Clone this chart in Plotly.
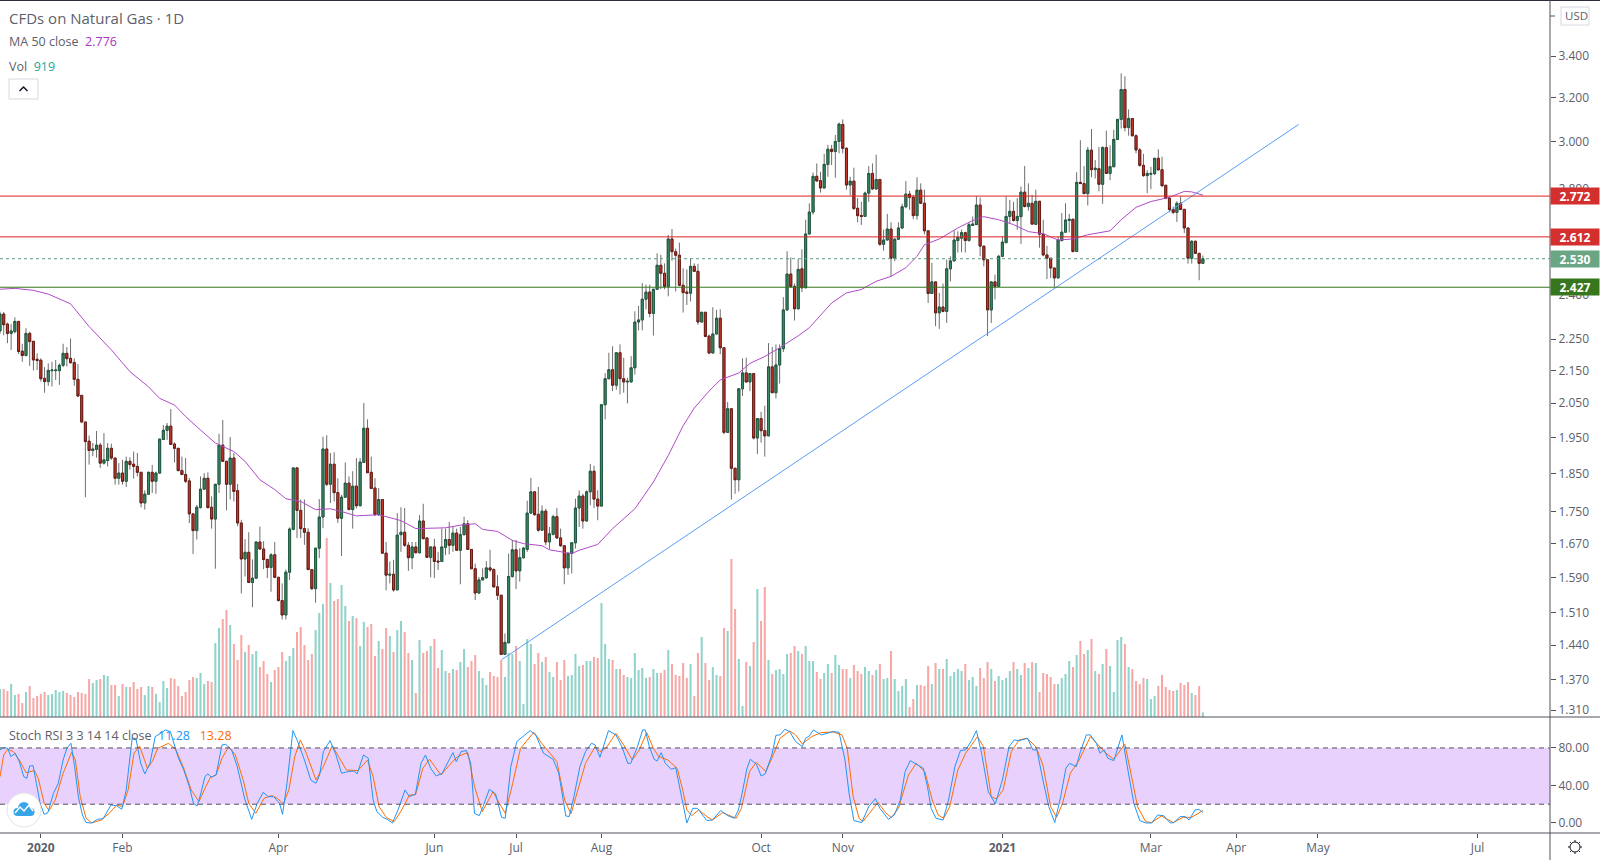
"""
CFDs on Natural Gas, daily candles with MA 50, volume and Stoch RSI panes.
"""

import math

import plotly.graph_objects as go

# Price values, one entry per daily bar.
opens = [
    2.277, 2.334, 2.300, 2.269, 2.275, 2.309, 2.211, 2.197, 2.269, 2.243,
    2.185, 2.182, 2.125, 2.115, 2.149, 2.149, 2.149, 2.166, 2.204, 2.188,
    2.175, 2.122, 2.073, 1.994, 1.939, 1.913, 1.916, 1.928, 1.878, 1.885,
    1.919, 1.892, 1.837, 1.851, 1.829, 1.883, 1.875, 1.869, 1.853, 1.772,
    1.795, 1.853, 1.829, 1.851, 1.944, 1.970, 1.982, 1.931, 1.919, 1.858,
    1.847, 1.830, 1.744, 1.702, 1.760, 1.808, 1.837, 1.761, 1.731, 1.821,
    1.928, 1.883, 1.821, 1.892, 1.804, 1.721, 1.633, 1.649, 1.578, 1.588,
    1.674, 1.657, 1.632, 1.613, 1.643, 1.590, 1.537, 1.505, 1.602, 1.705,
    1.865, 1.753, 1.707, 1.698, 1.608, 1.564, 1.659, 1.736, 1.917, 1.821,
    1.875, 1.799, 1.733, 1.787, 1.824, 1.755, 1.816, 1.765, 1.880, 1.976,
    1.853, 1.811, 1.742, 1.781, 1.647, 1.595, 1.597, 1.561, 1.692, 1.698,
    1.666, 1.636, 1.662, 1.648, 1.726, 1.684, 1.637, 1.662, 1.628, 1.627,
    1.661, 1.680, 1.666, 1.696, 1.654, 1.692, 1.719, 1.656, 1.610, 1.554,
    1.584, 1.589, 1.612, 1.608, 1.568, 1.549, 1.421, 1.445, 1.592, 1.655,
    1.605, 1.636, 1.656, 1.746, 1.801, 1.743, 1.703, 1.751, 1.674, 1.693,
    1.737, 1.684, 1.665, 1.612, 1.646, 1.672, 1.759, 1.790, 1.726, 1.801,
    1.856, 1.782, 1.764, 2.045, 2.124, 2.152, 2.104, 2.206, 2.124, 2.114,
    2.114, 2.158, 2.307, 2.314, 2.385, 2.410, 2.336, 2.420, 2.506, 2.477,
    2.430, 2.604, 2.556, 2.543, 2.434, 2.410, 2.406, 2.502, 2.484, 2.307,
    2.340, 2.260, 2.205, 2.267, 2.320, 2.222, 1.964, 2.033, 1.864, 1.833,
    2.093, 2.142, 2.114, 2.140, 1.948, 2.004, 1.969, 1.954, 2.161, 2.081,
    2.167, 2.219, 2.348, 2.474, 2.430, 2.352, 2.493, 2.425, 2.623, 2.708,
    2.853, 2.835, 2.805, 2.903, 2.968, 2.958, 3.002, 3.077, 2.972, 2.817,
    2.833, 2.723, 2.695, 2.691, 2.784, 2.865, 2.801, 2.840, 2.584, 2.600,
    2.642, 2.532, 2.603, 2.646, 2.729, 2.780, 2.767, 2.694, 2.796, 2.743,
    2.635, 2.405, 2.446, 2.338, 2.358, 2.343, 2.493, 2.522, 2.598, 2.607,
    2.628, 2.598, 2.656, 2.659, 2.736, 2.577, 2.526, 2.348, 2.446, 2.430,
    2.539, 2.590, 2.691, 2.711, 2.675, 2.690, 2.788, 2.730, 2.743, 2.660,
    2.751, 2.622, 2.544, 2.532, 2.496, 2.460, 2.598, 2.630, 2.675, 2.680,
    2.557, 2.828, 2.823, 2.782, 2.964, 2.881, 2.885, 2.820, 2.975, 2.865,
    2.893, 3.011, 3.100, 3.238, 3.063, 3.104, 3.027, 2.965, 2.899, 2.856,
    2.862, 2.864, 2.929, 2.881, 2.816, 2.763, 2.718, 2.707, 2.743, 2.719,
    2.646, 2.532, 2.595, 2.550, 2.513,
]
closes = [
    2.334, 2.298, 2.269, 2.277, 2.309, 2.210, 2.197, 2.269, 2.242, 2.183,
    2.181, 2.124, 2.115, 2.150, 2.151, 2.151, 2.166, 2.204, 2.187, 2.174,
    2.122, 2.071, 1.994, 1.938, 1.913, 1.917, 1.928, 1.878, 1.887, 1.919,
    1.892, 1.837, 1.851, 1.829, 1.883, 1.874, 1.869, 1.853, 1.772, 1.795,
    1.853, 1.829, 1.851, 1.945, 1.970, 1.982, 1.930, 1.919, 1.858, 1.847,
    1.829, 1.744, 1.702, 1.761, 1.808, 1.837, 1.760, 1.731, 1.821, 1.928,
    1.883, 1.821, 1.892, 1.802, 1.721, 1.633, 1.649, 1.578, 1.588, 1.674,
    1.657, 1.632, 1.613, 1.643, 1.590, 1.537, 1.505, 1.602, 1.706, 1.865,
    1.753, 1.707, 1.698, 1.608, 1.564, 1.659, 1.736, 1.917, 1.821, 1.875,
    1.799, 1.733, 1.787, 1.824, 1.755, 1.816, 1.765, 1.881, 1.976, 1.852,
    1.810, 1.742, 1.781, 1.647, 1.595, 1.597, 1.561, 1.691, 1.698, 1.666,
    1.636, 1.662, 1.648, 1.726, 1.682, 1.637, 1.662, 1.627, 1.626, 1.662,
    1.680, 1.666, 1.696, 1.654, 1.692, 1.719, 1.656, 1.610, 1.554, 1.584,
    1.589, 1.612, 1.607, 1.568, 1.549, 1.421, 1.446, 1.592, 1.655, 1.605,
    1.636, 1.659, 1.746, 1.801, 1.742, 1.703, 1.751, 1.674, 1.694, 1.737,
    1.684, 1.665, 1.612, 1.646, 1.672, 1.759, 1.790, 1.726, 1.801, 1.856,
    1.782, 1.764, 2.045, 2.124, 2.152, 2.104, 2.206, 2.124, 2.114, 2.116,
    2.158, 2.307, 2.314, 2.385, 2.410, 2.336, 2.420, 2.506, 2.477, 2.430,
    2.604, 2.556, 2.543, 2.434, 2.408, 2.406, 2.502, 2.484, 2.307, 2.340,
    2.259, 2.205, 2.267, 2.320, 2.222, 1.964, 2.033, 1.864, 1.833, 2.093,
    2.142, 2.114, 2.140, 1.948, 2.004, 1.969, 1.954, 2.161, 2.081, 2.167,
    2.219, 2.348, 2.474, 2.430, 2.352, 2.491, 2.425, 2.623, 2.708, 2.853,
    2.834, 2.805, 2.903, 2.968, 2.958, 3.002, 3.079, 2.972, 2.817, 2.833,
    2.722, 2.694, 2.691, 2.784, 2.865, 2.801, 2.840, 2.584, 2.600, 2.642,
    2.532, 2.603, 2.646, 2.729, 2.780, 2.767, 2.694, 2.796, 2.743, 2.635,
    2.405, 2.446, 2.338, 2.358, 2.343, 2.493, 2.522, 2.600, 2.610, 2.628,
    2.598, 2.659, 2.661, 2.736, 2.577, 2.526, 2.348, 2.446, 2.430, 2.539,
    2.592, 2.691, 2.711, 2.675, 2.691, 2.788, 2.730, 2.743, 2.661, 2.751,
    2.622, 2.544, 2.532, 2.496, 2.460, 2.600, 2.630, 2.677, 2.680, 2.557,
    2.828, 2.823, 2.782, 2.964, 2.881, 2.887, 2.820, 2.975, 2.865, 2.894,
    3.011, 3.100, 3.238, 3.063, 3.104, 3.027, 2.965, 2.899, 2.856, 2.865,
    2.865, 2.929, 2.880, 2.814, 2.763, 2.718, 2.707, 2.743, 2.718, 2.646,
    2.532, 2.595, 2.550, 2.513, 2.530,
]
highs = [
    2.342, 2.341, 2.305, 2.300, 2.323, 2.309, 2.235, 2.286, 2.275, 2.243,
    2.204, 2.188, 2.160, 2.172, 2.177, 2.183, 2.172, 2.235, 2.224, 2.252,
    2.188, 2.170, 2.073, 1.994, 1.955, 1.934, 1.968, 1.934, 1.962, 1.934,
    1.932, 1.892, 1.878, 1.887, 1.896, 1.894, 1.910, 1.906, 1.853, 1.805,
    1.855, 1.873, 1.855, 1.945, 1.985, 1.991, 2.032, 1.936, 1.919, 1.896,
    1.892, 1.838, 1.744, 1.767, 1.842, 1.851, 1.853, 1.789, 1.821, 1.960,
    2.000, 1.883, 1.951, 1.906, 1.822, 1.729, 1.681, 1.698, 1.632, 1.675,
    1.712, 1.676, 1.632, 1.647, 1.674, 1.590, 1.576, 1.608, 1.710, 1.865,
    1.865, 1.781, 1.781, 1.708, 1.608, 1.659, 1.782, 1.952, 1.956, 1.906,
    1.908, 1.837, 1.793, 1.880, 1.842, 1.856, 1.892, 1.892, 2.050, 2.002,
    1.896, 1.837, 1.811, 1.781, 1.674, 1.627, 1.631, 1.746, 1.761, 1.759,
    1.674, 1.674, 1.674, 1.741, 1.770, 1.684, 1.662, 1.682, 1.650, 1.707,
    1.707, 1.724, 1.711, 1.707, 1.711, 1.737, 1.728, 1.656, 1.622, 1.591,
    1.611, 1.628, 1.655, 1.611, 1.595, 1.549, 1.465, 1.646, 1.679, 1.679,
    1.659, 1.662, 1.778, 1.838, 1.801, 1.814, 1.766, 1.757, 1.711, 1.742,
    1.759, 1.707, 1.665, 1.650, 1.674, 1.783, 1.805, 1.796, 1.805, 1.876,
    1.871, 1.805, 2.045, 2.141, 2.206, 2.227, 2.206, 2.233, 2.190, 2.127,
    2.195, 2.343, 2.362, 2.442, 2.436, 2.436, 2.420, 2.550, 2.544, 2.513,
    2.619, 2.642, 2.568, 2.590, 2.495, 2.491, 2.532, 2.513, 2.511, 2.340,
    2.340, 2.265, 2.357, 2.348, 2.350, 2.222, 2.053, 2.033, 1.864, 2.093,
    2.188, 2.190, 2.140, 2.140, 2.004, 2.024, 2.042, 2.237, 2.225, 2.233,
    2.233, 2.392, 2.558, 2.535, 2.440, 2.529, 2.565, 2.678, 2.743, 2.869,
    2.907, 2.872, 2.948, 2.987, 2.987, 3.030, 3.085, 3.100, 2.976, 2.851,
    2.889, 2.764, 2.749, 2.790, 2.896, 2.907, 2.944, 2.840, 2.640, 2.701,
    2.668, 2.607, 2.668, 2.741, 2.833, 2.793, 2.777, 2.849, 2.824, 2.798,
    2.635, 2.515, 2.446, 2.407, 2.440, 2.527, 2.539, 2.636, 2.633, 2.640,
    2.632, 2.668, 2.691, 2.771, 2.766, 2.577, 2.526, 2.448, 2.472, 2.544,
    2.613, 2.771, 2.757, 2.749, 2.764, 2.811, 2.896, 2.824, 2.777, 2.798,
    2.751, 2.678, 2.578, 2.532, 2.496, 2.613, 2.704, 2.743, 2.701, 2.680,
    2.870, 3.007, 2.896, 2.978, 3.057, 2.922, 2.978, 2.981, 3.050, 2.985,
    3.053, 3.100, 3.315, 3.301, 3.145, 3.104, 3.033, 2.973, 2.948, 2.879,
    2.893, 2.929, 2.968, 2.936, 2.816, 2.770, 2.730, 2.751, 2.770, 2.719,
    2.646, 2.600, 2.598, 2.550, 2.542,
]
lows = [
    2.268, 2.263, 2.237, 2.215, 2.269, 2.202, 2.177, 2.194, 2.164, 2.150,
    2.151, 2.115, 2.081, 2.102, 2.100, 2.120, 2.105, 2.160, 2.162, 2.172,
    2.102, 2.069, 1.993, 1.787, 1.874, 1.897, 1.893, 1.865, 1.874, 1.869,
    1.887, 1.820, 1.820, 1.820, 1.814, 1.860, 1.836, 1.842, 1.761, 1.755,
    1.793, 1.798, 1.796, 1.849, 1.943, 1.943, 1.929, 1.880, 1.855, 1.846,
    1.824, 1.721, 1.645, 1.680, 1.758, 1.806, 1.758, 1.707, 1.610, 1.798,
    1.883, 1.753, 1.781, 1.776, 1.713, 1.553, 1.592, 1.578, 1.522, 1.588,
    1.655, 1.609, 1.588, 1.557, 1.588, 1.535, 1.495, 1.495, 1.584, 1.703,
    1.684, 1.684, 1.667, 1.607, 1.561, 1.532, 1.635, 1.708, 1.816, 1.772,
    1.776, 1.721, 1.640, 1.785, 1.754, 1.707, 1.758, 1.763, 1.878, 1.851,
    1.808, 1.739, 1.739, 1.645, 1.560, 1.576, 1.557, 1.561, 1.650, 1.662,
    1.605, 1.609, 1.646, 1.646, 1.682, 1.636, 1.590, 1.588, 1.607, 1.627,
    1.642, 1.644, 1.650, 1.654, 1.574, 1.690, 1.656, 1.609, 1.538, 1.552,
    1.583, 1.586, 1.603, 1.566, 1.538, 1.420, 1.420, 1.445, 1.589, 1.563,
    1.580, 1.634, 1.650, 1.744, 1.739, 1.699, 1.703, 1.666, 1.656, 1.690,
    1.682, 1.662, 1.574, 1.596, 1.599, 1.658, 1.711, 1.707, 1.724, 1.766,
    1.759, 1.728, 1.764, 2.002, 2.122, 2.086, 2.090, 2.076, 2.081, 2.049,
    2.112, 2.137, 2.279, 2.279, 2.350, 2.323, 2.262, 2.418, 2.420, 2.420,
    2.395, 2.523, 2.412, 2.430, 2.339, 2.365, 2.377, 2.483, 2.298, 2.306,
    2.257, 2.201, 2.204, 2.265, 2.201, 1.959, 1.964, 1.781, 1.796, 1.802,
    2.071, 2.112, 2.086, 1.944, 1.903, 1.935, 1.896, 1.954, 2.081, 2.064,
    2.109, 2.208, 2.346, 2.424, 2.312, 2.350, 2.410, 2.425, 2.621, 2.698,
    2.830, 2.786, 2.802, 2.851, 2.900, 2.847, 2.950, 2.950, 2.798, 2.774,
    2.717, 2.668, 2.658, 2.690, 2.749, 2.798, 2.798, 2.578, 2.560, 2.600,
    2.466, 2.521, 2.600, 2.642, 2.723, 2.717, 2.680, 2.678, 2.741, 2.621,
    2.372, 2.404, 2.293, 2.284, 2.340, 2.304, 2.448, 2.521, 2.553, 2.554,
    2.553, 2.594, 2.656, 2.659, 2.539, 2.502, 2.260, 2.304, 2.384, 2.430,
    2.539, 2.588, 2.665, 2.671, 2.639, 2.585, 2.727, 2.714, 2.659, 2.659,
    2.571, 2.539, 2.456, 2.460, 2.428, 2.460, 2.594, 2.630, 2.629, 2.553,
    2.557, 2.821, 2.781, 2.734, 2.849, 2.844, 2.791, 2.741, 2.865, 2.837,
    2.893, 3.008, 3.059, 3.046, 3.027, 3.023, 2.950, 2.893, 2.851, 2.784,
    2.800, 2.858, 2.876, 2.810, 2.759, 2.707, 2.700, 2.669, 2.717, 2.627,
    2.512, 2.512, 2.549, 2.452, 2.512,
]
volumes = [
    5600, 5600, 5200, 6600, 4400, 4600, 2800, 5000, 6200, 3800,
    4200, 4600, 5000, 4400, 4600, 5400, 5000, 5200, 4800, 4400,
    4000, 5000, 4800, 4600, 7600, 6800, 7400, 7600, 8400, 8200,
    6400, 6400, 4200, 6600, 6000, 6000, 7000, 5600, 6000, 4400,
    6200, 6000, 4600, 3000, 7200, 5800, 7800, 7600, 6200, 4200,
    5000, 7400, 8000, 7800, 8800, 6600, 7200, 7000, 14800, 17800,
    19600, 21400, 18400, 14600, 11400, 16400, 13000, 14400, 12600, 13200,
    10000, 11200, 8600, 7000, 9400, 10000, 13000, 11200, 12200, 13800,
    17000, 18000, 14400, 11400, 12600, 17400, 20800, 22600, 35800, 26800,
    23200, 23600, 26400, 22200, 19200, 20200, 19800, 14200, 19000, 18000,
    18600, 12200, 15200, 13600, 17800, 16200, 13000, 17400, 19200, 17000,
    12800, 11400, 4800, 15400, 12800, 13200, 14200, 15600, 9800, 13400,
    9200, 8800, 9600, 9400, 11000, 13600, 10000, 11200, 12400, 9200,
    7800, 6400, 9000, 8200, 8000, 11400, 8000, 12800, 12600, 14200,
    11200, 2600, 15600, 14600, 10600, 12800, 11000, 12000, 9000, 8000,
    11000, 7400, 11400, 8200, 8400, 12600, 10200, 10400, 11200, 11200,
    12000, 11800,
    22800, 14600, 11600, 11400, 9600, 9600, 8400, 8000, 7800, 12800,
    9400, 9800, 7800, 8000, 9600, 8800, 8800, 9400, 13400, 10600,
    8400, 8200, 10800, 7800, 10600, 4200, 12800, 16000, 10800, 7400,
    10000, 8400, 8200, 17800, 17200, 31600, 21600, 11600, 2200, 11000,
    10200, 15000, 25600, 19200, 26000, 11400, 8600, 9400, 9600, 8600,
    12600, 12800, 14200, 13200, 12600, 14200, 11200, 11200, 9000, 7600,
    8800, 10600, 8800, 12400, 10400, 9600, 9600, 7800, 10400, 9200,
    8600, 10000, 9200, 8400, 9400, 10600, 7600, 7800, 13200, 7600,
    5200, 6200, 7600, 2000, 3600, 6400, 6400, 6200, 10200, 6600,
    10800, 9600, 9600, 11600, 8200, 9000, 9600, 9200, 10600, 7400,
    8000, 6200, 9800, 7800, 11000, 9600, 7200, 8200, 7400, 7800,
    9200, 11000, 9600, 8400, 10800, 9800, 11000, 10800, 5000, 8800,
    8600, 8000, 6600, 6600, 7800, 8600, 11200, 10000, 12400, 15200,
    12600, 13400, 15600, 9200, 8600, 10600, 13600, 10200, 5000, 15400,
    16000, 14600, 10000, 9600, 7200, 6600, 7800, 7600, 3600, 4200,
    6200, 8400, 6000, 5400, 5200, 5400, 6800, 6400, 7000, 4800,
    4400, 6200,
    919,
]

# MA 50, vertices (bar number, price).
ma_bars = [
    0, 4, 9, 13, 19, 24, 30, 35, 40, 43, 47, 50, 54, 58, 63, 66, 70, 74, 77, 81,
    85, 89, 92, 96, 102, 108, 112, 120, 125, 128, 130, 134, 138, 141, 146, 148,
    154, 156, 161, 165, 171, 176, 180, 184, 187, 191, 194, 199, 202, 206, 210,
    215, 218, 221, 224, 228, 232, 236, 240, 244, 247, 249, 253, 258, 262, 265,
    269, 273, 277, 281, 285, 289, 293, 299, 302, 306, 310, 315, 319, 321, 324,
]
ma_values = [
    2.420, 2.423, 2.416, 2.403, 2.369, 2.292, 2.215, 2.146, 2.099, 2.064, 2.044,
    2.010, 1.971, 1.934, 1.910, 1.883, 1.833, 1.807, 1.783, 1.776, 1.755, 1.757,
    1.750, 1.739, 1.742, 1.727, 1.707, 1.709, 1.717, 1.719, 1.705, 1.700, 1.678,
    1.670, 1.665, 1.655, 1.646, 1.654, 1.668, 1.707, 1.757, 1.827, 1.899, 1.983,
    2.035, 2.086, 2.120, 2.142, 2.172, 2.194, 2.222, 2.261, 2.288, 2.328, 2.372,
    2.407, 2.419, 2.448, 2.466, 2.497, 2.539, 2.582, 2.604, 2.646, 2.675, 2.690,
    2.678, 2.659, 2.632, 2.624, 2.600, 2.604, 2.620, 2.635, 2.678, 2.727, 2.750,
    2.767, 2.791, 2.789, 2.776,
]

# Stoch RSI, vertices.
k_bars = [
    0.0, 1.0, 2.1, 2.9, 4.1, 5.2, 6.4, 7.2, 8.0, 8.9, 9.8, 10.8, 11.9, 12.9, 14.4,
    15.7, 17.0, 18.0, 19.1, 20.1, 21.1, 22.2, 23.2, 24.7, 26.3, 27.8, 29.9, 31.4,
    32.8, 34.0, 35.6, 36.6, 37.9, 39.0, 40.4, 41.8, 43.3, 44.5, 45.9, 46.9, 47.9,
    49.5, 51.0, 52.1, 53.1, 54.1, 55.2, 56.0, 56.9, 58.2, 59.8, 60.8, 62.4, 63.9,
    66.0, 67.8, 69.3, 70.9, 72.2, 73.7, 75.3, 76.1, 77.3, 78.9, 80.2, 82.0, 83.7,
    85.1, 86.1, 87.1, 88.9, 90.5, 92.0, 93.8, 95.4, 96.2, 97.9, 99.2, 100.5, 101.5,
    103.1, 104.3, 105.7, 107.2, 109.1, 110.3, 111.9, 113.4, 114.6, 116.0, 117.5,
    119.1, 120.4, 122.0, 122.9, 124.2, 125.6, 126.8, 127.8, 129.1, 130.1, 131.8,
    133.5, 135.1, 136.1, 137.6, 139.2, 140.7, 142.8, 144.3, 146.4, 149.0, 150.5,
    152.4, 153.3, 154.6, 156.2, 157.7, 159.3, 160.3, 161.6, 163.9, 165.9, 167.5,
    169.1, 169.9, 171.7, 173.1, 173.8, 174.9, 176.2, 177.0, 178.1, 179.2, 180.8,
    182.0, 183.4, 185.0, 186.6, 187.9, 190.4, 191.9, 194.1, 196.2, 197.8, 198.9,
    199.9, 201.2, 202.1, 203.7, 205.0, 206.1, 207.9, 209.0, 210.1, 211.4, 212.7,
    214.3, 216.1, 217.0, 218.0, 219.1, 221.2, 222.8, 224.4, 226.0, 227.6, 228.7,
    230.0, 232.1, 234.0, 235.8, 237.0, 239.3, 240.9, 242.5, 243.8, 245.2, 246.6,
    248.7, 249.8, 250.8, 252.1, 254.0, 255.5, 257.2, 258.7, 260.1, 261.7, 263.0,
    264.4, 266.2, 268.1, 270.0, 271.8, 273.2, 274.5, 276.8, 278.2, 279.3, 280.9,
    282.5, 284.1, 285.7, 287.1, 288.1, 289.9, 291.0, 292.6, 293.7, 295.3, 296.3,
    297.4, 298.4, 300.0, 301.1, 302.2, 303.8, 305.4, 307.0, 308.6, 310.2, 311.8,
    313.4, 315.2, 316.2, 317.9, 319.2, 320.3, 321.9, 322.9, 324.0,
]
k_values = [
    77.9, 80.4, 79.6, 70.8, 74.3, 65.4, 49.4, 47.6, 60.8, 61.2, 42.3, 21.0, 9.2,
    11.0, 31.6, 42.3, 67.2, 79.6, 85.0, 60.1, 28.1, 8.5, 0.4, 0.0, 3.9, 4.6, 19.2,
    18.5, 14.6, 35.2, 90.3, 90.3, 63.6, 52.3, 63.6, 92.1, 95.6, 99.2, 97.4, 85.0,
    70.8, 56.5, 38.8, 21.0, 18.1, 31.6, 49.4, 52.3, 48.7, 51.2, 83.2, 83.9, 77.9,
    60.1, 24.5, 3.9, 21.0, 32.7, 28.1, 28.1, 21.0, 9.2, 42.3, 98.5, 86.8, 67.2,
    45.9, 42.3, 51.2, 76.1, 87.8, 72.5, 53.0, 54.8, 55.5, 52.3, 72.5, 69.0, 24.5,
    12.1, 6.0, 3.9, 0.0, 13.9, 35.2, 28.1, 30.9, 63.6, 72.5, 58.3, 50.1, 53.0, 63.6,
    75.0, 65.4, 76.1, 77.2, 63.6, 10.3, 7.8, 17.4, 35.9, 30.9, 6.0, 5.0, 60.1, 86.8,
    91.4, 98.5, 93.9, 74.3, 67.9, 53.0, 7.5, 6.8, 28.1, 60.1, 76.1, 85.0, 83.2, 70.0,
    98.5, 93.9, 81.4, 63.6, 63.6, 81.4, 99.2, 99.2, 81.4, 67.9, 66.1, 75.0, 63.6,
    57.2, 59.0, 31.6, 0.0, 15.6, 15.6, 2.5, 3.2, 13.2, 7.5, 5.0, 13.9, 31.6, 58.3,
    67.9, 62.9, 50.1, 52.3, 72.5, 93.5, 93.9, 99.9, 97.4, 86.8, 81.4, 90.3, 92.8,
    99.2, 93.9, 95.6, 97.4, 96.7, 67.2, 31.6, 2.5, 0.4, 17.4, 26.0, 15.6, 3.9, 8.5,
    24.5, 54.8, 66.5, 62.9, 58.3, 38.8, 15.6, 5.0, 3.2, 24.5, 60.1, 77.2, 77.9, 87.8,
    98.5, 74.3, 33.4, 20.3, 45.9, 81.4, 88.5, 87.8, 90.3, 77.9, 77.9, 45.9, 17.4, 0.4,
    28.1, 58.3, 63.6, 60.1, 76.1, 93.9, 93.9, 85.0, 74.3, 77.9, 69.0, 66.5, 81.4, 93.9,
    56.5, 21.0, 2.5, 0.0, 0.0, 8.5, 7.8, 0.0, 0.4, 6.8, 6.8, 3.2, 13.9, 14.6, 11.28,
]
d_bars = [
    0.0, 1.0, 2.1, 3.6, 5.2, 7.0, 9.3, 10.3, 11.9, 13.2, 14.9, 17.0, 19.3, 20.3, 21.6,
    23.2, 24.7, 27.3, 29.4, 31.4, 33.0, 34.5, 36.1, 37.6, 39.7, 41.0, 42.5, 45.4, 47.4,
    49.5, 51.5, 53.6, 55.2, 56.7, 58.2, 59.8, 61.6, 63.4, 65.5, 67.0, 68.9, 71.1, 73.2,
    74.7, 76.3, 77.8, 79.4, 80.9, 82.5, 85.1, 87.1, 89.5, 91.2, 93.3, 96.4, 99.0, 100.5,
    102.1, 104.1, 106.2, 108.2, 110.3, 111.9, 113.9, 115.7, 118.8, 121.1, 123.2, 126.0,
    127.8, 129.9, 132.8, 134.5, 136.1, 138.1, 140.2, 143.8, 145.9, 150.0, 152.1, 153.8,
    155.7, 157.7, 160.3, 161.6, 163.2, 165.9, 168.0, 170.3, 172.2, 174.2, 176.0, 177.4,
    179.9, 182.4, 184.0, 185.0, 186.3, 188.2, 190.4, 191.9, 194.6, 198.3, 199.7, 201.9,
    203.7, 206.3, 207.9, 210.1, 212.7, 214.3, 216.1, 218.6, 221.2, 224.4, 226.8, 228.2,
    229.8, 231.4, 232.4, 234.2, 236.5, 238.5, 240.1, 242.0, 244.7, 246.8, 249.1, 251.1,
    252.7, 254.2, 255.8, 258.0, 260.1, 263.3, 264.9, 267.0, 268.4, 270.2, 272.4, 274.5,
    276.6, 279.0, 280.9, 283.0, 284.6, 286.2, 288.3, 290.7, 293.7, 295.8, 297.9, 300.0,
    303.0, 304.8, 306.4, 308.6, 310.2, 312.8, 316.0, 318.7, 320.8, 322.4, 324.0,
]
d_values = [
    49.4, 72.5, 78.6, 76.1, 67.2, 53.7, 55.8, 47.6, 21.0, 13.2, 24.5, 53.0, 75.4, 67.2,
    28.1, 5.0, 0.0, 3.2, 10.3, 19.2, 17.4, 35.2, 74.3, 82.1, 58.3, 65.4, 79.6, 85.0, 77.9,
    58.3, 35.2, 22.8, 37.0, 48.7, 51.2, 69.0, 81.4, 72.5, 45.9, 21.0, 10.3, 26.3, 29.2,
    26.3, 20.3, 35.2, 70.8, 88.5, 74.3, 45.9, 60.1, 82.5, 70.8, 56.5, 55.8, 67.2, 49.4,
    17.4, 5.7, 1.4, 13.9, 29.9, 29.9, 58.3, 67.9, 51.2, 61.9, 70.8, 75.0, 38.8, 12.1, 33.4,
    21.0, 10.3, 42.3, 79.6, 96.7, 85.0, 65.4, 24.5, 9.6, 35.2, 63.6, 81.4, 76.1, 79.6, 95.6,
    83.2, 67.2, 77.9, 96.4, 79.6, 70.8, 67.2, 58.3, 33.4, 13.9, 7.8, 13.9, 6.8, 3.2, 11.0,
    5.0, 15.6, 54.8, 64.7, 54.8, 69.0, 90.3, 98.1, 93.9, 84.3, 92.1, 96.4, 97.1, 93.9, 79.6,
    28.1, 5.0, 1.4, 10.3, 22.0, 11.0, 5.7, 15.6, 51.2, 63.6, 54.8, 24.5, 8.5, 5.0, 17.4,
    56.5, 74.3, 92.1, 81.4, 28.1, 25.6, 35.2, 76.1, 88.5, 90.3, 81.4, 61.9, 17.4, 6.0, 21.0,
    53.0, 67.2, 92.1, 83.2, 74.3, 67.9, 83.9, 49.4, 17.4, 1.4, 0.4, 7.5, 0.4, 6.0, 6.0, 9.2,
    13.28,
]

trend_bars = [135.1, 349.8]
trend_prices = [1.41, 3.077]

resistance_levels = [2.772, 2.612]
support_level = 2.427
last_price = 2.530

price_ticks = [3.4, 3.2, 3.0, 2.8, 2.4, 2.25, 2.15, 2.05, 1.95, 1.85, 1.75, 1.67, 1.59, 1.51, 1.44, 1.37, 1.31]
rsi_ticks = [80, 40, 0]
month_bars = [11, 33, 75, 117, 139, 162, 205, 227, 270, 310, 333, 355, 398]
month_labels = ["<b>2020</b>", "Feb", "Apr", "Jun", "Jul", "Aug", "Oct", "Nov", "<b>2021</b>", "Mar", "Apr", "May", "Jul"]

FONT = "Open Sans"
TEXT = "#5d606b"
LINE = "#50535e"
LAST_BAR = 417.5

# page geometry, pixels
PLOT_W, PLOT_B, PANE_B = 1550, 833, 717


def px(x):
    return x / PLOT_W


def py(y):
    return (PLOT_B - y) / (PLOT_B - 1)


bars = list(range(len(opens)))
assert len(closes) == len(opens) and len(highs) == len(opens) and len(lows) == len(opens), (
    len(opens), len(closes), len(highs), len(lows))
assert len(volumes) == len(opens), len(volumes)
assert len(k_bars) == len(k_values), (len(k_bars), len(k_values))
assert len(d_bars) == len(d_values), (len(d_bars), len(d_values))
assert len(ma_bars) == len(ma_values), (len(ma_bars), len(ma_values))

fig = go.Figure()

# Volume sits on the base axis so the price traces draw over it.
fig.add_trace(go.Bar(
    x=bars, y=volumes, width=0.55, yaxis="y",
    marker=dict(color=["#8fd3ca" if c >= o else "#f7a8a6" for o, c in zip(opens, closes)], line_width=0),
))

# Grey wicks first, then coloured bodies on top.
fig.add_trace(go.Candlestick(
    x=bars, open=opens, high=highs, low=lows, close=closes, yaxis="y2",
    increasing=dict(line=dict(color="#6e6e6e", width=1), fillcolor="#6e6e6e"),
    decreasing=dict(line=dict(color="#6e6e6e", width=1), fillcolor="#6e6e6e"),
))
fig.add_trace(go.Candlestick(
    x=bars, open=opens, close=closes, yaxis="y2",
    high=[max(o, c) for o, c in zip(opens, closes)],
    low=[min(o, c) for o, c in zip(opens, closes)],
    increasing=dict(line=dict(color="#1f5a41", width=1), fillcolor="#3c8c66"),
    decreasing=dict(line=dict(color="#6b1c15", width=1), fillcolor="#c8392b"),
))

fig.add_trace(go.Scatter(x=ma_bars, y=ma_values, yaxis="y2", mode="lines", line=dict(color="#b04ac8", width=1)))
fig.add_trace(go.Scatter(x=trend_bars, y=trend_prices, yaxis="y2", mode="lines", line=dict(color="#5b9cf6", width=1)))

fig.add_trace(go.Scatter(x=d_bars, y=d_values, yaxis="y3", mode="lines", line=dict(color="#ff6d00", width=1)))
fig.add_trace(go.Scatter(x=k_bars, y=k_values, yaxis="y3", mode="lines", line=dict(color="#2196f3", width=1)))

shapes = [
    # stoch RSI band
    dict(type="rect", xref="x", yref="y3", x0=0, x1=LAST_BAR, y0=20, y1=80, fillcolor="#e8d1fd",
         line_width=0, layer="below"),
    dict(type="line", xref="x", yref="y3", x0=0, x1=LAST_BAR, y0=80, y1=80, line=dict(color="#50535e", width=1, dash="5px,4px")),
    dict(type="line", xref="x", yref="y3", x0=0, x1=LAST_BAR, y0=20, y1=20, line=dict(color="#50535e", width=1, dash="5px,4px")),
    # frame
    dict(type="line", xref="paper", yref="paper", x0=0, x1=px(1600), y0=py(0.5), y1=py(0.5), line=dict(color="#2a2e39", width=1)),
    dict(type="line", xref="paper", yref="paper", x0=0, x1=px(1600), y0=py(PANE_B), y1=py(PANE_B), line=dict(color=LINE, width=1)),
    dict(type="line", xref="paper", yref="paper", x0=0, x1=px(1600), y0=py(PLOT_B), y1=py(PLOT_B), line=dict(color=LINE, width=1)),
    dict(type="line", xref="paper", yref="paper", x0=1, x1=1, y0=py(0), y1=py(860), line=dict(color=LINE, width=1)),
    # USD box and its tick
    dict(type="line", xref="paper", yref="paper", x0=px(1550), x1=px(1555), y0=py(16), y1=py(16), line=dict(color=LINE, width=1)),
    dict(type="rect", xref="paper", yref="paper", x0=px(1561), x1=px(1589), y0=py(7), y1=py(25), line=dict(color="#d6d8e0", width=1), fillcolor="white"),
    # collapse button
    dict(type="rect", xref="paper", yref="paper", x0=px(9), x1=px(38), y0=py(79), y1=py(99), line=dict(color="#d6d8e0", width=1), fillcolor="white"),
    dict(type="path", xref="paper", yref="paper",
         path=f"M {px(19.5)} {py(91)} L {px(23.5)} {py(87)} L {px(27.5)} {py(91)}", line=dict(color="#131722", width=1.5)),
    # badge in the lower left corner
    dict(type="circle", xref="paper", yref="paper", x0=px(7), x1=px(41), y0=py(793), y1=py(827), line=dict(color="#e3e3e3", width=1), fillcolor="white"),
    dict(type="circle", xref="paper", yref="paper", x0=px(13.5), x1=px(21.5), y0=py(808), y1=py(816), fillcolor="#38a5e8", line_width=0),
    dict(type="circle", xref="paper", yref="paper", x0=px(26.5), x1=px(34.5), y0=py(808), y1=py(816), fillcolor="#38a5e8", line_width=0),
    dict(type="circle", xref="paper", yref="paper", x0=px(18), x1=px(30), y0=py(802), y1=py(814), fillcolor="#38a5e8", line_width=0),
    dict(type="rect", xref="paper", yref="paper", x0=px(17.5), x1=px(30.5), y0=py(810), y1=py(816), fillcolor="#38a5e8", line_width=0),
    dict(type="path", xref="paper", yref="paper",
         path=f"M {px(15)} {py(813)} L {px(20)} {py(807)} L {px(24)} {py(811)} L {px(29)} {py(805)} L {px(33)} {py(811)}",
         line=dict(color="white", width=1.5)),
    # settings wheel
    dict(type="circle", xref="paper", yref="paper", x0=px(1570), x1=px(1580), y0=py(842), y1=py(852), line=dict(color="#131722", width=1), fillcolor="white"),
]
# Level lines as shapes, on a log axis shape positions are plain data values.
for level in resistance_levels:
    shapes.append(dict(type="line", xref="x", yref="y2", x0=0, x1=LAST_BAR, y0=level, y1=level,
                       line=dict(color="#e02020", width=1)))
shapes.append(dict(type="line", xref="x", yref="y2", x0=0, x1=LAST_BAR, y0=support_level, y1=support_level,
                   line=dict(color="#38761d", width=1)))
shapes.append(dict(type="line", xref="x", yref="y2", x0=0, x1=LAST_BAR, y0=last_price, y1=last_price,
                   line=dict(color="#5f9c80", width=1, dash="dot")))
for step in range(8):
    angle = step * math.pi / 4
    shapes.append(dict(type="line", xref="paper", yref="paper",
                       x0=px(1575 + 5 * math.cos(angle)), x1=px(1575 + 7 * math.cos(angle)),
                       y0=py(847 + 5 * math.sin(angle)), y1=py(847 + 7 * math.sin(angle)),
                       line=dict(color="#131722", width=1)))

annotations = []


def add_text(x, y, text, size=12.5, color=TEXT):
    annotations.append(dict(xref="paper", yref="paper", x=px(x), y=py(y), text=text, showarrow=False,
                            xanchor="left", yanchor="middle", font=dict(family=FONT, size=size, color=color)))


add_text(7, 18, "CFDs on Natural Gas · 1D", size=15)
add_text(7, 42, f'MA 50 close  <span style="color:#a832c0">{ma_values[-1]:.3f}</span>', size=12.5)
add_text(7, 66, f'Vol  <span style="color:#26a69a">{volumes[-1]}</span>', size=12.5)
add_text(7, 735, f'Stoch RSI 3 3 14 14 close&nbsp;&nbsp;<span style="color:#2196f3">{k_values[-1]:.2f}</span>'
                 f'&nbsp;&nbsp;&nbsp;<span style="color:#ff6d00">{d_values[-1]:.2f}</span>', size=12.5)
add_text(1563, 16, "USD", size=11.5)

# Price labels on the axis.
for value, color in [(2.772, "#d32f2f"), (2.612, "#d32f2f"), (2.530, "#6aa584"), (2.427, "#38761d")]:
    annotations.append(dict(
        xref="paper", yref="y2", x=px(1550), y=math.log10(value), text=f"<b>{value:.3f}</b>", showarrow=False,
        xanchor="left", yanchor="middle", width=46, height=14, bgcolor=color, align="center",
        font=dict(family=FONT, size=12, color="white"),
    ))

fig.update_layout(
    width=1600, height=860, margin=dict(l=0, r=50, t=1, b=27),
    paper_bgcolor="white", plot_bgcolor="white", showlegend=False, boxgap=0.22, bargap=0.45,
    xaxis=dict(
        domain=[0, 1], range=[0, LAST_BAR], anchor="y3", showgrid=False, zeroline=False, rangeslider=dict(visible=False),
        tickmode="array", tickvals=month_bars, ticktext=month_labels, ticks="outside", ticklen=4, tickcolor=LINE,
        tickfont=dict(family=FONT, size=12, color=TEXT),
    ),
    yaxis=dict(
        domain=[py(PANE_B), 1], range=[0, 143200], visible=False, fixedrange=True,
    ),
    yaxis2=dict(
        overlaying="y", side="right", anchor="x", type="log", range=[math.log10(1.297), math.log10(3.684)],
        showgrid=False, zeroline=False, tickmode="array", tickvals=price_ticks,
        ticktext=[f"{p:.3f}" for p in price_ticks], ticks="outside", ticklen=5, tickcolor=LINE,
        tickfont=dict(family=FONT, size=12, color=TEXT),
    ),
    yaxis3=dict(
        domain=[0, py(PANE_B)], anchor="x", side="right", range=[-10.7, 113], showgrid=False, zeroline=False,
        tickmode="array", tickvals=rsi_ticks, ticktext=[f"{v:.2f}" for v in rsi_ticks], ticks="outside", ticklen=5,
        tickcolor=LINE, tickfont=dict(family=FONT, size=12, color=TEXT),
    ),
    shapes=shapes,
    annotations=annotations,
)

fig.write_html(
    "out.html",
    config=dict(displayModeBar=False),
    post_script="document.body.style.margin='0';document.body.style.overflow='hidden';",
)
